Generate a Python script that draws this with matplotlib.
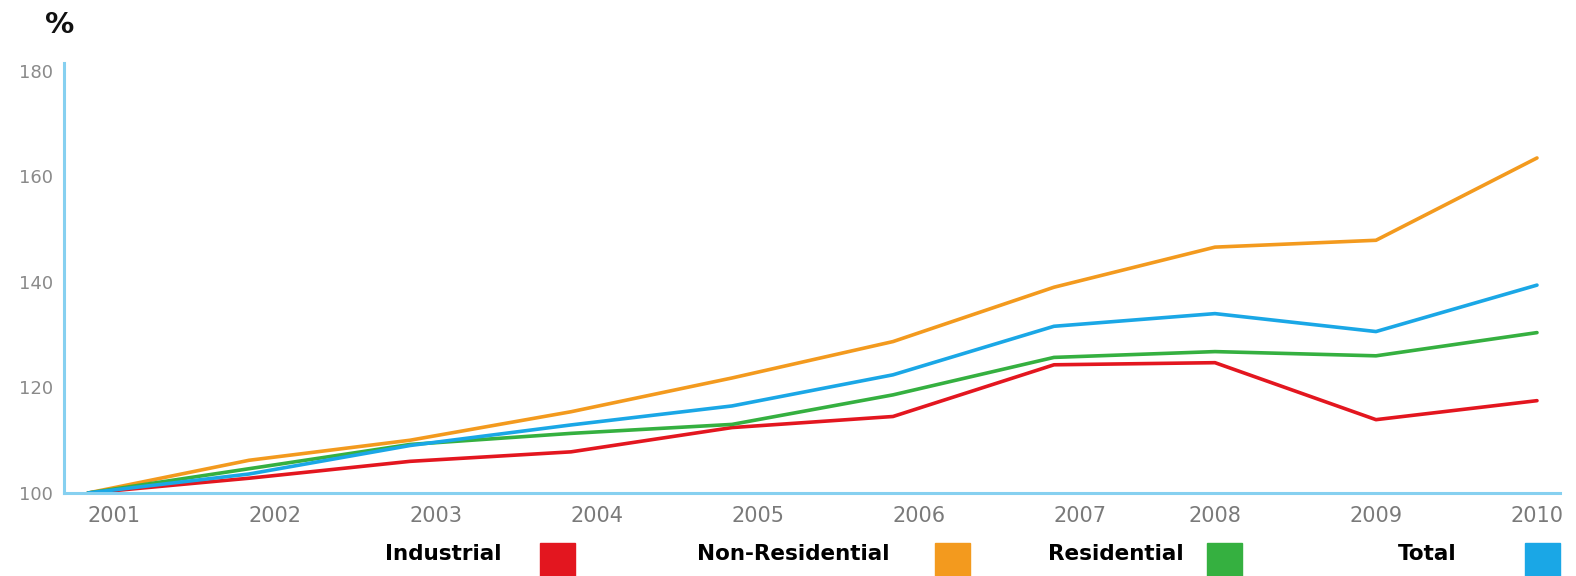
import matplotlib.pyplot as plt
from matplotlib.patches import Rectangle

YEARS = ["2001", "2002", "2003", "2004", "2005", "2006", "2007", "2008", "2009", "2010"]
INDUSTRIAL = [100, 102.8, 106.0, 107.8, 112.4, 114.5, 124.3, 124.7, 113.9, 117.5]
NON_RESIDENTIAL = [100, 106.2, 110.0, 115.4, 121.8, 128.7, 139.0, 146.6, 147.9, 163.5]
RESIDENTIAL = [100, 104.6, 109.2, 111.3, 113.0, 118.6, 125.7, 126.8, 126.0, 130.4]
TOTAL = [100, 103.6, 109.0, 112.9, 116.5, 122.4, 131.6, 134.0, 130.6, 139.4]

LABELS = ["Industrial", "Non-Residential", "Residential", "Total"]
COLORS = {
    "Industrial": "#e3161f",
    "Non-Residential": "#f39a1e",
    "Residential": "#35b040",
    "Total": "#1aa7e6",
}
SPINE_COLOR = "#86d0f0"

fig = plt.figure(figsize=(15.76, 5.76), dpi=100)
ax = fig.add_axes([64 / 1576, 1 - 493 / 576, (1560 - 64) / 1576, (493 - 63) / 576])

x = list(range(len(YEARS)))
series = {
    "Industrial": INDUSTRIAL,
    "Non-Residential": NON_RESIDENTIAL,
    "Residential": RESIDENTIAL,
    "Total": TOTAL,
}
for name in ["Industrial", "Non-Residential", "Residential", "Total"]:
    ax.plot(x, series[name], color=COLORS[name], lw=2.6, solid_capstyle="round", solid_joinstyle="round")

ax.set_xlim(-0.149, 9.143)
ax.set_ylim(100, 181.5)
ax.set_yticks([100, 120, 140, 160, 180])
ax.set_xticks(x)
ax.set_xticklabels(YEARS)

for side in ["top", "right"]:
    ax.spines[side].set_visible(False)
for side in ["left", "bottom"]:
    ax.spines[side].set_color(SPINE_COLOR)
    ax.spines[side].set_linewidth(2.2)

ax.tick_params(axis="y", length=0, pad=8, labelsize=13, labelcolor="#8a8a8a")
ax.tick_params(axis="x", length=0, pad=9, labelsize=15, labelcolor="#7a7a7a")
# the source nudges the year labels a little right of the data points
for lbl in ax.get_xticklabels()[:7]:
    lbl.set_horizontalalignment("left")
    lbl.set_x(lbl.get_position()[0])

fig.text(45 / 1576, 1 - 25 / 576, "%", fontsize=21, fontweight="bold", color="#111111",
         va="center", ha="left")

# legend row under the axis: bold label, then a colour block
legend_spots = [(385, 540), (697, 935), (1048, 1207), (1398, 1525)]
for name, (tx, bx) in zip(LABELS, legend_spots):
    fig.text(tx / 1576, 1 - 554 / 576, name, fontsize=15.5, fontweight="bold",
             color="black", va="center", ha="left")
    fig.patches.append(Rectangle((bx / 1576, 0), 35 / 1576, 33 / 576,
                                 transform=fig.transFigure, color=COLORS[name]))

fig.savefig("out.png", dpi=100)
